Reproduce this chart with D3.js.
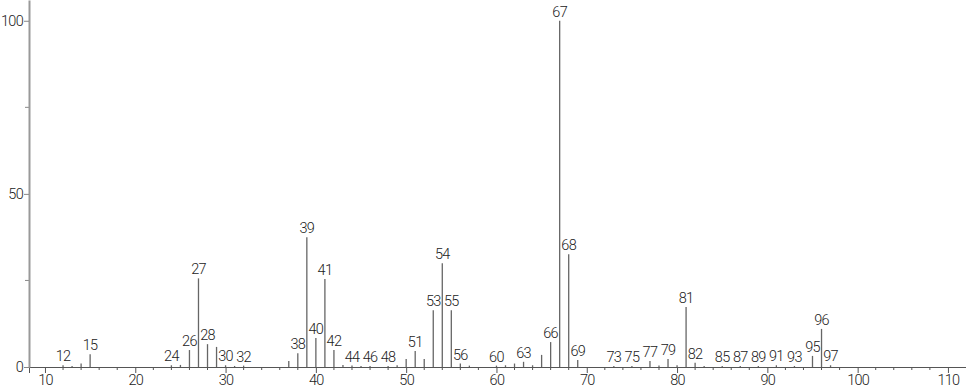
<!DOCTYPE html>
<html>
<head>
<meta charset="utf-8">
<script src="https://cdn.jsdelivr.net/npm/d3@7"></script>
<style>
  body { margin: 0; background: #fff; }
  svg text { font-family: "Roboto", sans-serif; font-size: 14.5px; font-weight: 300; letter-spacing: -0.7px; fill: #222; }
</style>
</head>
<body>
<div id="spectrum"></div>
<script>
// m/z and relative intensity
var mz = [12, 13, 14, 15, 24, 25, 26, 27, 28, 29, 30, 31, 32, 37, 38, 39, 40, 41, 42, 43,
  44, 45, 46, 48, 49, 50, 51, 52, 53, 54, 55, 56, 57, 60, 61, 62, 63, 64, 65, 66,
  67, 68, 69, 73, 75, 77, 78, 79, 80, 81, 82, 83, 85, 87, 89, 91, 93, 95, 96, 97];
var intensity = [0.5, 0.3, 1.0, 3.7, 0.5, 0.6, 4.9, 25.6, 6.6, 5.8, 0.5, 0.3, 0.4, 1.7, 4.0, 37.5, 8.4, 25.4, 4.9, 0.6,
  0.4, 0.3, 0.3, 0.3, 0.5, 2.3, 4.6, 2.3, 16.4, 30.0, 16.4, 1.0, 0.4, 0.4, 0.5, 1.0, 1.5, 0.5, 3.5, 7.2,
  100, 32.6, 2.0, 0.3, 0.3, 1.7, 0.4, 2.3, 0.5, 17.3, 1.2, 0.3, 0.3, 0.3, 0.3, 0.5, 0.3, 3.2, 11.0, 0.5];
// peaks that carry a label
var labelled = [12, 15, 24, 26, 27, 28, 30, 32, 38, 39, 40, 41, 42, 44, 46, 48, 51, 53, 54, 55,
  56, 60, 63, 66, 67, 68, 69, 73, 75, 77, 79, 81, 82, 85, 87, 89, 91, 93, 95, 96, 97];
var xTicks = [10, 20, 30, 40, 50, 60, 70, 80, 90, 100, 110];
var yTicks = [0, 50, 100];

var W = 966, H = 389;
var margin = {top: 0, right: 0, bottom: 22, left: 29};
var height = H - margin.top - margin.bottom;

var peaks = mz.map(function(m, i) { return {mz: m, val: intensity[i]}; });

var x = d3.scaleLinear().domain([8.23, 112]).range([margin.left, W]);
var y = d3.scaleLinear().domain([0, 106]).range([margin.top + height, margin.top]);

var svg = d3.select("#spectrum").append("svg")
  .attr("width", W)
  .attr("height", H);

// minor ticks every 2 on x
var minorX = d3.range(10, 112, 2).filter(function(d) { return d % 10 != 0; });
svg.append("g")
  .attr("transform", "translate(0," + y(0) + ")")
  .selectAll("line")
  .data(minorX)
  .enter()
  .append("line")
  .attr("x1", function(d) { return x(d); })
  .attr("x2", function(d) { return x(d); })
  .attr("y1", 0)
  .attr("y2", 3)
  .attr("stroke", "#555");

var xAxis = svg.append("g")
  .attr("transform", "translate(0," + y(0) + ")")
  .call(d3.axisBottom(x).tickValues(xTicks).tickSize(6).tickPadding(2).tickFormat(d3.format("d")));
xAxis.select(".domain").attr("stroke", "#555");
xAxis.selectAll(".tick line").attr("stroke", "#555");
xAxis.selectAll("text").style("font-size", "14.5px");

// minor y ticks at 25 / 75
svg.append("g")
  .selectAll("line")
  .data([25, 75])
  .enter()
  .append("line")
  .attr("x1", margin.left - 4)
  .attr("x2", margin.left)
  .attr("y1", function(d) { return y(d); })
  .attr("y2", function(d) { return y(d); })
  .attr("stroke", "#888");

var yAxis = svg.append("g")
  .attr("transform", "translate(" + margin.left + ",0)")
  .call(d3.axisLeft(y).tickValues(yTicks).tickSize(5).tickPadding(1).tickSizeOuter(0));
yAxis.select(".domain").attr("stroke", "#999").attr("stroke-width", 2);
yAxis.selectAll(".tick line").attr("stroke", "#888");
yAxis.selectAll("text").style("font-size", "14.5px");

// the peaks
svg.append("g")
  .selectAll("line")
  .data(peaks)
  .enter()
  .append("line")
  .attr("x1", function(d) { return x(d.mz); })
  .attr("x2", function(d) { return x(d.mz); })
  .attr("y1", y(0))
  .attr("y2", function(d) { return y(d.val); })
  .attr("stroke", "#666")
  .attr("stroke-width", 1.3);

svg.append("g")
  .selectAll("text")
  .data(peaks.filter(function(d) { return labelled.indexOf(d.mz) >= 0; }))
  .enter()
  .append("text")
  .attr("x", function(d) { return x(d.mz); })
  .attr("y", function(d) { return y(d.val) - 4; })
  .attr("text-anchor", "middle")
  .text(function(d) { return d.mz; });
</script>
</body>
</html>
